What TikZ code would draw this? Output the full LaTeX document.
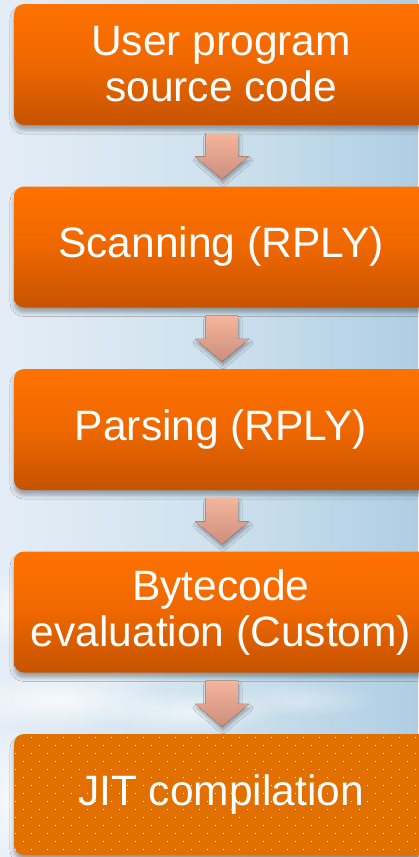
\documentclass[tikz,border=0pt]{standalone}
\usepackage{fontspec}
\setmainfont{Liberation Sans}
\usetikzlibrary{calc,shadows.blur,fadings}

\definecolor{bgleft}{HTML}{E4EDF6}
\definecolor{bgmid}{HTML}{CFE2EE}
\definecolor{bgright}{HTML}{AFCEE3}
\definecolor{boxtop}{HTML}{FF7200}
\definecolor{boxmid}{HTML}{EE6700}
\definecolor{boxbot}{HTML}{C65300}
\definecolor{boxflat}{HTML}{E27000}
\definecolor{arrowtop}{HTML}{F5B59B}
\definecolor{arrowbot}{HTML}{CC8E7E}

% soft-edged blob used for the clouds
\tikzfading[name=softblob, inner color=transparent!0, outer color=transparent!100]

\tikzset{
  stage/.style={
    rounded corners=10pt, minimum width=414pt, minimum height=121pt,
    inner sep=0pt, align=center, text=white,
    font=\fontsize{42.5}{46}\selectfont,
    blur shadow={shadow xshift=0pt, shadow yshift=-5pt,
                 shadow blur radius=4pt, shadow opacity=32}
  },
  gradstage/.style={stage, top color=boxtop, bottom color=boxbot, middle color=boxmid},
  dotstage/.style={stage, fill=boxflat,
    path picture={
      \foreach \r in {0,...,15}{
        \pgfmathsetmacro{\off}{mod(\r,2)==0 ? 0.7 : 8.7}
        \foreach \k in {0,...,26}{
          \fill[white, sharp corners, x=1pt, y=-1pt]
            ($(path picture bounding box.north west)+(\off+16*\k,2.5+8*\r)$)
            rectangle ++(1.4,1.4);
        }
      }
    }},
  flowarrow/.style={top color=arrowtop, bottom color=arrowbot, draw=none,
    blur shadow={shadow xshift=1pt, shadow yshift=-4pt,
                 shadow blur radius=3pt, shadow opacity=30}},
  haze/.style={fill=white, path fading=softblob}
}

% block arrow from the bottom of one stage to the top of the next
\newcommand{\stagearrow}[2]{%
  \fill[flowarrow]
    ($(#1.south)+(-15.5,8)$) -- ($(#1.south)+(17,8)$) --
    ($(#2.north)+(17,-30)$) -- ($(#2.north)+(28,-30)$) --
    ($(#2.north)+(1,-7)$) --
    ($(#2.north)+(-26,-30)$) -- ($(#2.north)+(-15.5,-30)$) -- cycle;}

\begin{document}
\begin{tikzpicture}[x=1pt, y=-1pt]
  \useasboundingbox (0,0) rectangle (418,857);

  % sky-blue backdrop
  \shade[left color=bgleft, right color=bgright, middle color=bgmid]
    (0,0) rectangle (418,857);

  % hazy white clouds in the lower part
  \fill[haze, fill opacity=0.75] (60,700) ellipse (110 and 28);
  \fill[haze, fill opacity=0.6] (190,712) ellipse (90 and 22);
  \fill[haze, fill opacity=0.7] (20,610) ellipse (60 and 40);
  \fill[haze, fill opacity=0.7] (10,800) ellipse (40 and 80);
  \fill[haze, fill opacity=0.5] (110,660) ellipse (120 and 30);
  \fill[haze, fill opacity=0.35] (300,700) ellipse (80 and 18);

  % processing stages
  \node[gradstage] (src)  at (221,64.5)  {User program\\source code};
  \node[gradstage] (scan) at (221,247)   {Scanning (RPLY)};
  \node[gradstage] (parse) at (221,429.5) {Parsing (RPLY)};
  \node[gradstage] (byte) at (221,612)   {Bytecode\\evaluation (Custom)};
  \node[dotstage]  (jit)  at (221,794.5) {JIT compilation};

  % flow between stages
  \stagearrow{src}{scan}
  \stagearrow{scan}{parse}
  \stagearrow{parse}{byte}
  \stagearrow{byte}{jit}
\end{tikzpicture}
\end{document}
